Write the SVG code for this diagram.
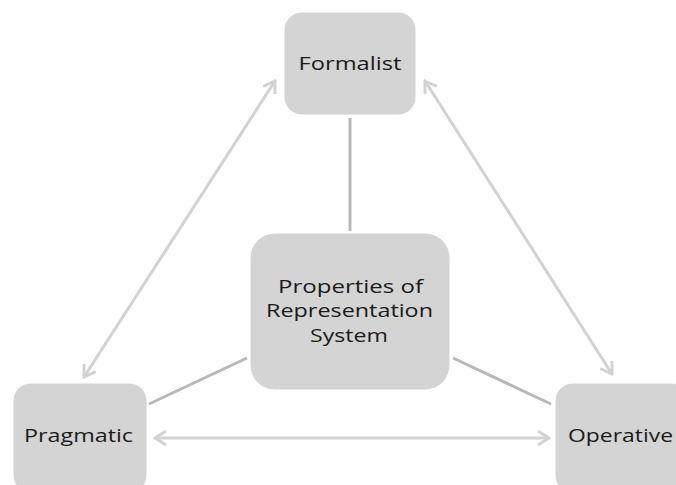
<svg xmlns="http://www.w3.org/2000/svg" width="676" height="485" viewBox="0 0 676 485">
  <defs>
    <style>
      .box { fill: #d4d4d4; stroke: #ffffff; stroke-width: 1; }
      .label { font-family: "Open Sans", "DejaVu Sans", sans-serif; font-size: 19px; fill: #1a1a1a; text-anchor: middle; }
      .link { stroke: #b8b8b8; stroke-width: 3; fill: none; }
      .rel { stroke: #d2d2d2; stroke-width: 3; fill: none; marker-start: url(#chev); marker-end: url(#chev); }
    </style>
    <marker id="chev" viewBox="-14 -10 16 20" refX="0" refY="0" markerWidth="16" markerHeight="20" markerUnits="userSpaceOnUse" orient="auto-start-reverse">
      <path d="M -11,-7 L 0,0 L -11,7" fill="none" stroke="#d2d2d2" stroke-width="3"/>
    </marker>
  </defs>
  <rect width="676" height="485" fill="#ffffff"/>

  <g id="connectors">
    <line class="link" x1="350" y1="118" x2="350" y2="231"/>
    <line class="link" x1="149" y1="404" x2="247" y2="358"/>
    <line class="link" x1="453" y1="358" x2="551" y2="404"/>
    <line class="rel" x1="84" y1="377" x2="275" y2="81"/>
    <line class="rel" x1="425" y1="81" x2="612" y2="374"/>
    <line class="rel" x1="155" y1="438" x2="549" y2="438"/>
  </g>

  <g id="formalist">
    <rect class="box" x="284" y="12" width="132" height="103" rx="18"/>
    <text class="label" x="350" y="70" textLength="103" lengthAdjust="spacingAndGlyphs">Formalist</text>
  </g>

  <g id="properties">
    <rect class="box" x="250" y="233" width="200" height="157" rx="25"/>
    <text class="label" x="350.5" y="293" textLength="145" lengthAdjust="spacingAndGlyphs">Properties of</text>
    <text class="label" x="349.5" y="317" textLength="167" lengthAdjust="spacingAndGlyphs">Representation</text>
    <text class="label" x="349" y="342" textLength="78" lengthAdjust="spacingAndGlyphs">System</text>
  </g>

  <g id="pragmatic">
    <rect class="box" x="13" y="383" width="134" height="110" rx="18"/>
    <text class="label" x="78.5" y="442" textLength="109" lengthAdjust="spacingAndGlyphs">Pragmatic</text>
  </g>

  <g id="operative">
    <rect class="box" x="555" y="383" width="134" height="110" rx="18"/>
    <text class="label" x="620.5" y="442" textLength="105" lengthAdjust="spacingAndGlyphs">Operative</text>
  </g>
</svg>
